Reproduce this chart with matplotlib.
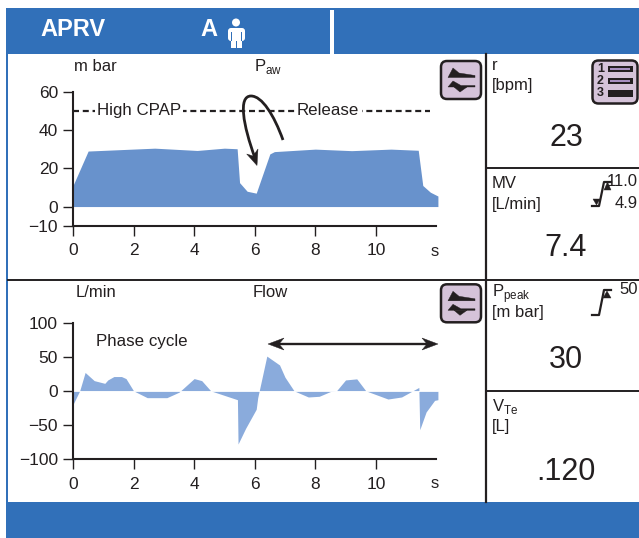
"""
APRV ventilator screen: airway pressure and flow curves with side readouts
"""
import matplotlib
matplotlib.use("Agg")
import matplotlib.pyplot as plt
from matplotlib.patches import Rectangle, FancyBboxPatch, Polygon, Circle, PathPatch
from matplotlib.path import Path

plt.rcParams['font.family'] = ['Liberation Sans', 'DejaVu Sans']
plt.rcParams['mathtext.fontset'] = 'custom'
plt.rcParams['mathtext.rm'] = 'Liberation Sans'
plt.rcParams['axes.unicode_minus'] = True

## Data
time_paw = [0, 0.5, 2.7, 4.1, 5.0, 5.42, 5.5, 5.75, 6.05, 6.5, 6.65, 8.0, 9.2, 10.5, 11.4, 11.55, 11.8, 12.05]
paw = [11, 29, 30.5, 29.3, 30.5, 30.2, 12.5, 8, 7, 27.5, 28.7, 30, 29.2, 30, 29.4, 11, 7.5, 5.5]
time_flow = [0, 0.22, 0.4, 0.7, 1.05, 1.15, 1.35, 1.6, 1.75, 2.0, 2.45, 3.1, 3.5, 4.0, 4.25, 4.55,
             5.43, 5.45, 5.7, 6.05, 6.1, 6.4, 6.82, 7.0, 7.3, 7.77, 8.13, 8.5, 8.7, 9.0, 9.37, 9.67,
             10.4, 10.85, 11.42, 11.45, 11.66, 11.94, 12.05]
flow = [-20, 0, 27, 15, 11, 16, 21, 21, 18, 0, -10, -10, -2, 18, 15, 0,
        -13, -78, -55, -27, -10, 51, 38, 20, 0, -9, -8, -1, 0, 16, 17.6, 0,
        -12, -9, 5, -57, -31, -14, -13]
time_ticks = [0, 2, 4, 6, 8, 10]
paw_ticks = [60, 40, 20, 0, -10]
flow_ticks = [100, 50, 0, -50, -100]
cpap_level = 50

## Colours and figure size
W, H = 639, 538
BLUE = '#3170b9'
FILL_PAW = '#6892cc'
FILL_FLOW = '#8aabdc'
PURPLE = '#d5c3d9'
INK = '#231f20'

def ax_px(fig, x0, x1, y_top, y_bot):       # Axes placed by pixel edges
	return fig.add_axes([x0/W, 1 - y_bot/H, (x1 - x0)/W, (y_bot - y_top)/H])

def style_axis(ax, yticks, ylim):           # Axis look shared by both curves
	ax.set_xlim(0, 12)
	ax.set_ylim(*ylim)
	ax.set_xticks(time_ticks)
	ax.set_yticks(yticks)
	ax.patch.set_visible(False)
	for side in ['top', 'right']:
		ax.spines[side].set_visible(False)
	for side in ['left', 'bottom']:
		ax.spines[side].set_linewidth(1.5)
		ax.spines[side].set_color(INK)
	ax.tick_params(length=7.2, width=1.0, color=INK, labelcolor=INK, labelsize=12.5)
	ax.tick_params(axis='x', pad=5.5)
	ax.tick_params(axis='y', pad=3.6)

def wave_icon(o, x, y):                     # Small curve button
	o.add_patch(FancyBboxPatch((x + 4, y + 4), 40, 38, boxstyle="round,pad=0,rounding_size=6",
	                           fc=PURPLE, ec=INK, lw=1.8))
	o.add_patch(Polygon([(x+11, y+20.5), (x+16, y+11), (x+22, y+16), (x+38, y+18.5), (x+38, y+20.5)], fc=INK, ec=INK, lw=0.3))
	o.add_patch(Polygon([(x+11, y+30), (x+38, y+30), (x+38, y+28.5), (x+24, y+28.5), (x+16, y+24)], fc=INK, ec=INK, lw=0.3))
	o.add_patch(Polygon([(x+17, y+30), (x+30, y+30), (x+23, y+35)], fc=INK, ec=INK, lw=0.3))

def limit_icon(o, x_low, y_low, x_high, y_high):   # Alarm limit step symbol
	o.plot([x_low - 7, x_low, x_high, x_high + 7], [y_low, y_low, y_high, y_high], color=INK, lw=1.6, solid_joinstyle='round')

fig = plt.figure(figsize=(W/100, H/100), dpi=100, facecolor='white')

## Background panels
o = fig.add_axes([0, 0, 1, 1])
o.set_xlim(0, W)
o.set_ylim(H, 0)
o.axis('off')
o.add_patch(Rectangle((6, 8), W - 6, H - 8, fc=BLUE, ec='none'))
o.add_patch(Rectangle((8, 54), W - 8, 448, fc='white', ec='none'))
o.add_patch(Rectangle((330, 10), 4, 44, fc='white', ec='none'))
o.plot([8, 486], [279.5, 279.5], color=INK, lw=1.4)
o.plot([486, 486], [54, 502], color=INK, lw=1.6)
o.plot([486, 639], [168, 168], color=INK, lw=1.4)
o.plot([486, 639], [279.5, 279.5], color=INK, lw=1.4)
o.plot([486, 639], [390.5, 390.5], color=INK, lw=1.4)

# Header
o.text(40, 29, 'APRV', color='white', fontsize=17, fontweight='bold', va='center')
o.text(200, 29, 'A', color='white', fontsize=17, fontweight='bold', va='center')
o.add_patch(Circle((236, 22.5), 4, fc='white', ec='none'))
o.add_patch(FancyBboxPatch((228, 28), 17, 13, boxstyle="round,pad=0,rounding_size=3", fc='white', ec='none'))
o.add_patch(Rectangle((231, 29), 11, 19, fc='white', ec='none'))
o.add_patch(Rectangle((236, 41), 1, 7, fc=BLUE, ec='none'))
o.add_patch(Rectangle((231, 32), 1, 9, fc=BLUE, ec='none'))
o.add_patch(Rectangle((241, 32), 1, 9, fc=BLUE, ec='none'))

## Pressure curve
ax1 = ax_px(fig, 73, 436.4, 91.7, 225.7)
style_axis(ax1, paw_ticks, (-10, 60))
ax1.fill_between(time_paw, paw, 0, color=FILL_PAW, lw=0, clip_on=False)
ax1.plot([0, 11.8], [cpap_level, cpap_level], color=INK, lw=1.6, linestyle=(0, (2.7, 1.7)), zorder=3)
label_box = dict(fc='white', ec='none', pad=1.5)
ax1.text(0.8, cpap_level, 'High CPAP', fontsize=12.2, color=INK, va='center', bbox=label_box, zorder=4)
ax1.text(7.4, cpap_level, 'Release', fontsize=12.2, color=INK, va='center', bbox=label_box, zorder=4)

## Flow curve
ax2 = ax_px(fig, 73, 436.4, 322.7, 459)
style_axis(ax2, flow_ticks, (-100, 100))
ax2.fill_between(time_flow, flow, 0, color=FILL_FLOW, lw=0, clip_on=False)
ax2.plot([0, 12.05], [0, 0], color='white', lw=0.6, clip_on=False)
ax2.text(0.75, 72, 'Phase cycle', fontsize=12.2, color=INK, va='center')

## Overlay on top of the curves
t = fig.add_axes([0, 0, 1, 1], zorder=5)
t.set_xlim(0, W)
t.set_ylim(H, 0)
t.axis('off')

for x, y, s in [(74, 66.5, 'm bar'), (254, 66.5, r'P$_{\mathrm{aw}}$'), (431, 251, 's'),
                (76, 292.5, 'L/min'), (253, 292.5, 'Flow'), (431, 483, 's')]:
	t.text(x, y, s, fontsize=12, color=INK, va='center')

# Curved arrow between pressure levels
arc = Path([(283, 140), (274, 115), (262, 96), (251, 96), (238, 96), (243, 125), (255, 158)],
           [Path.MOVETO, Path.CURVE4, Path.CURVE4, Path.CURVE4, Path.CURVE4, Path.CURVE4, Path.CURVE4])
t.add_patch(PathPatch(arc, fc='none', ec=INK, lw=2.0))
t.add_patch(Polygon([(257, 165.5), (246.7, 154), (253, 156), (258, 149)], fc=INK, ec=INK, lw=0.3))

# Phase cycle arrow
t.plot([276, 430], [344, 344], color=INK, lw=1.7)
t.add_patch(Polygon([(268, 344), (284, 338), (279, 344), (284, 350)], fc=INK, ec=INK, lw=0.3))
t.add_patch(Polygon([(438, 344), (422, 338), (427, 344), (422, 350)], fc=INK, ec=INK, lw=0.3))

# Buttons
wave_icon(t, 437, 57)
wave_icon(t, 437, 280.3)
t.add_patch(FancyBboxPatch((592.5, 60.5), 45, 43, boxstyle="round,pad=0,rounding_size=6", fc=PURPLE, ec=INK, lw=1.8))
for i, y in enumerate([69, 81, 93.5]):
	t.text(600.5, y, str(i + 1), fontsize=9, fontweight='bold', color=INK, ha='center', va='center')
	t.add_patch(Rectangle((607.5, y - 3.4), 25, 6.8, fc=INK, ec='none'))
	if i < 2:
		t.add_patch(Rectangle((610, y - 1), 20, 2, fc='#a78fc0', ec='none'))

# Readouts on the right
for y, s in [(66, 'r'), (85.5, '[bpm]'), (183, 'MV'), (204, '[L/min]'),
             (294, r'P$_{\mathrm{peak}}$'), (313, '[m bar]'), (407, r'V$_{\mathrm{Te}}$'), (427, '[L]')]:
	t.text(492, y, s, fontsize=12, color=INK, va='center')
for y, s in [(137.5, '23'), (248.5, '7.4'), (360.5, '30'), (472.5, '.120')]:
	t.text(566, y, s, fontsize=22, color=INK, ha='center', va='center')
t.text(638, 181, '11.0', fontsize=12, color=INK, ha='right', va='center')
t.text(638, 203, '4.9', fontsize=12, color=INK, ha='right', va='center')
t.text(638, 290, '50', fontsize=12, color=INK, ha='right', va='center')

limit_icon(t, 599, 206, 604, 182)
t.add_patch(Polygon([(604, 190), (611, 190), (607.5, 182)], fc=INK, ec=INK, lw=0.3))
t.add_patch(Polygon([(593, 199), (600, 199), (596.5, 205)], fc=INK, ec=INK, lw=0.3))
limit_icon(t, 599, 315, 604, 290)
t.add_patch(Polygon([(603, 298), (611, 298), (607, 291)], fc=INK, ec=INK, lw=0.3))

fig.savefig('out.png', dpi=100, facecolor='white')
